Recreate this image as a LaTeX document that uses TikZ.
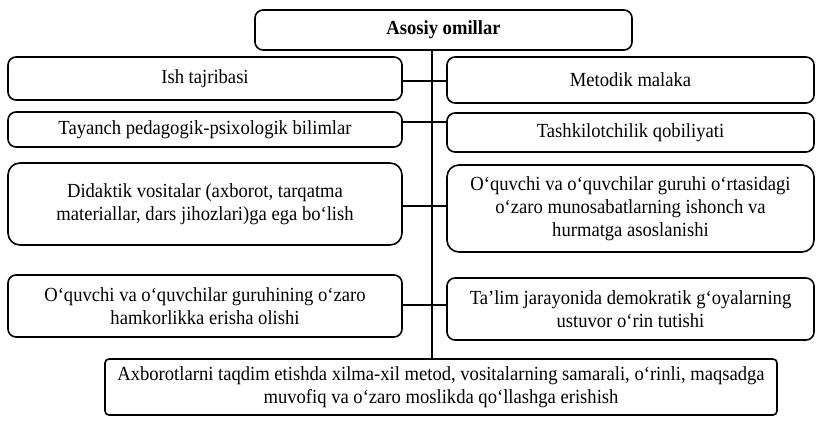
\documentclass[tikz,border=0pt]{standalone}
\usepackage{fontspec}
\setmainfont{Liberation Serif}[FakeStretch=0.93]
\tikzset{
  factor/.style={draw, line width=0.8pt, rounded corners=4pt, align=center,
    inner sep=2pt, font=\fontsize{10}{11.5}\selectfont},
  link/.style={line width=1.1pt},
}
\begin{document}
\begin{tikzpicture}[x=0.5pt, y=-0.5pt]
  \useasboundingbox (0,0) rectangle (823,429);
  \node[factor, minimum width=188.5pt, minimum height=20pt] (top) at (443.5,30) {\textbf{Asosiy omillar}};
  \node[factor, minimum width=197pt, minimum height=21.5pt] (L1) at (205,78.5) {Ish tajribasi};
  \node[factor, minimum width=183.5pt, minimum height=23pt] (R1) at (630.5,80) {Metodik malaka};
  \node[factor, minimum width=197pt, minimum height=17.5pt] (L2) at (205,129.5) {Tayanch pedagogik-psixologik bilimlar};
  \node[factor, minimum width=183.5pt, minimum height=19.5pt] (R2) at (630.5,132.5) {Tashkilotchilik qobiliyati};
  \node[factor, rounded corners=6pt, minimum width=197pt, minimum height=41pt] (L3) at (205,204)
    {Didaktik vositalar (axborot, tarqatma\\materiallar, dars jihozlari)ga ega bo‘lish};
  \node[factor, rounded corners=6pt, minimum width=183.5pt, minimum height=43.5pt] (R3) at (630.5,208.5)
    {O‘quvchi va o‘quvchilar guruhi o‘rtasidagi\\o‘zaro munosabatlarning ishonch va\\hurmatga asoslanishi};
  \node[factor, minimum width=197pt, minimum height=31pt] (L4) at (205,306)
    {O‘quvchi va o‘quvchilar guruhining o‘zaro\\hamkorlikka erisha olishi};
  \node[factor, minimum width=183.5pt, minimum height=31pt] (R4) at (630.5,309)
    {Ta’lim jarayonida demokratik g‘oyalarning\\ustuvor o‘rin tutishi};
  \node[factor, rounded corners=2pt, minimum width=336pt, minimum height=28pt] (bot) at (441,387)
    {Axborotlarni taqdim etishda xilma-xil metod, vositalarning samarali, o‘rinli, maqsadga\\muvofiq va o‘zaro moslikda qo‘llashga erishish};
  % spine and row joints
  \coordinate (S) at (432,0);
  \coordinate (c1) at (432,81);
  \coordinate (c2) at (432,122);
  \coordinate (c3) at (432,206);
  \coordinate (c4) at (432,305);
  \draw[line width=0.8pt] (top.south -| S) -- (bot.north -| S);
  \foreach \row in {1,...,4}
    \draw[link] (c\row -| L\row.east) -- (c\row -| R\row.west);
\end{tikzpicture}
\end{document}
